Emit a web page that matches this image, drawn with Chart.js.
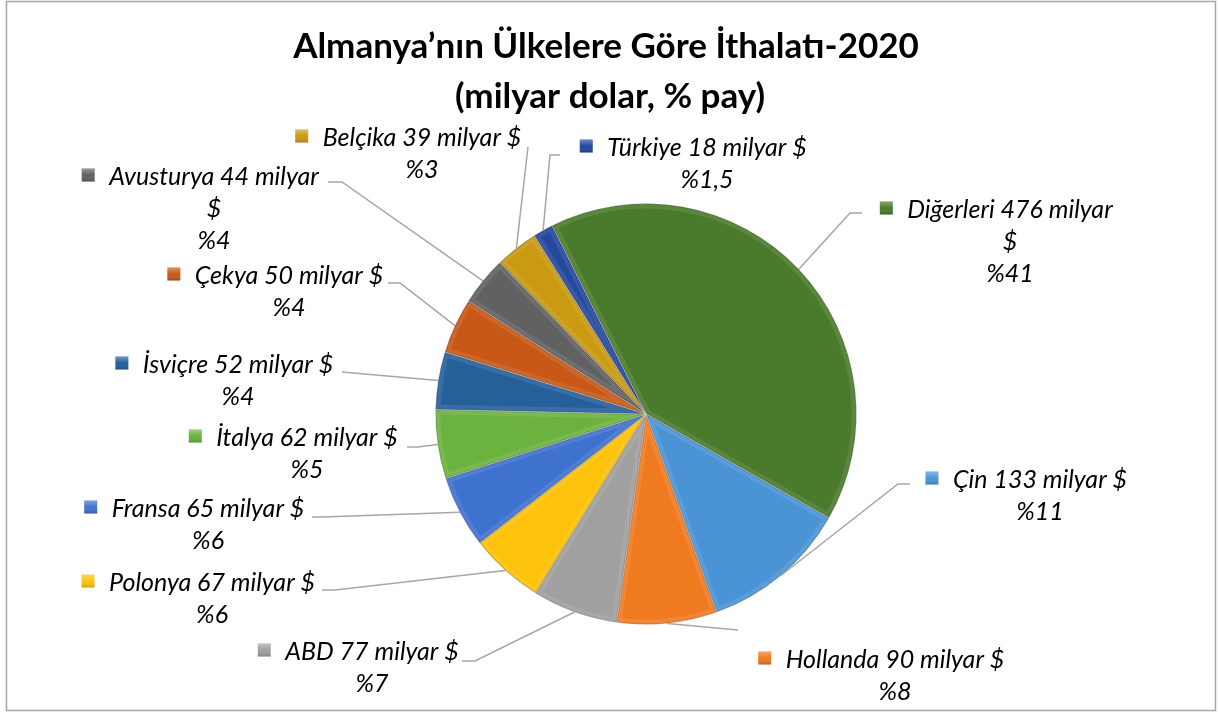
<!DOCTYPE html>
<html>
<head>
<meta charset="utf-8">
<script src="https://cdn.jsdelivr.net/npm/chart.js@4.4.0/dist/chart.umd.min.js"></script>
<style>
  body { margin: 0; background: #fff; }
  canvas { display: block; }
</style>
</head>
<body>
<canvas id="pie" width="1219" height="713"></canvas>
<script>
// data
const countries = ['Diğerleri', 'Çin', 'Hollanda', 'ABD', 'Polonya', 'Fransa', 'İtalya', 'İsviçre', 'Çekya', 'Avusturya', 'Belçika', 'Türkiye'];
const importBn = [476, 133, 90, 77, 67, 65, 62, 52, 50, 44, 39, 18];
const sharePct = [41, 11, 8, 7, 6, 6, 5, 4, 4, 4, 3, 1.5];
const titleLines = ['Almanya’nın Ülkelere Göre İthalatı-2020', '(milyar dolar, % pay)'];

const sliceColors = ['#4a7a2b', '#4a94d6', '#f07a20', '#a0a0a0', '#fdc20c', '#3f72cf', '#6cb23f', '#25609a', '#c75818', '#616161', '#c99a12', '#24489e'];

// where Excel put each data label (text centre x, first line y, leader line start + elbow)
const labelPos = [
  { cx: 1010, y: 210, wrap: true, from: [862, 213], elbow: [850, 213] },
  { cx: 1040, y: 480, from: [910, 484], elbow: [898, 484] },
  { cx: 895, y: 660, from: [738, 630], elbow: [738, 630] },
  { cx: 372, y: 652, from: [462, 661], elbow: [475, 661] },
  { cx: 212, y: 583, from: [322, 590], elbow: [335, 590] },
  { cx: 208, y: 509, from: [312, 517], elbow: [323, 517] },
  { cx: 307, y: 438, from: [407, 447], elbow: [418, 447] },
  { cx: 238, y: 365, from: [342, 372], elbow: [342, 372] },
  { cx: 289, y: 276, from: [388, 283], elbow: [400, 283] },
  { cx: 214, y: 177, wrap: true, from: [328, 182], elbow: [342, 182] },
  { cx: 422, y: 138, from: [528, 147], elbow: [528, 147] },
  { cx: 707, y: 148, from: [560, 155], elbow: [550, 155] },
];

const labelFont = 'italic 25px Lato';
const lineGap = 32;

const fmtPct = (v) => '%' + String(v).replace('.', ',');

const frameAndTitle = {
  id: 'frameAndTitle',
  beforeDraw(chart) {
    const ctx = chart.ctx;
    ctx.save();
    ctx.fillStyle = '#fff';
    ctx.fillRect(0, 0, chart.width, chart.height);
    ctx.strokeStyle = '#a6a6a6';
    ctx.lineWidth = 1.5;
    ctx.strokeRect(6.5, 1.5, 1209, 709);
    ctx.fillStyle = '#000';
    ctx.font = 'bold 35px Lato';
    ctx.textAlign = 'center';
    ctx.textBaseline = 'middle';
    ctx.fillText(titleLines[0], 606, 47);
    ctx.fillText(titleLines[1], 610, 97);
    ctx.restore();
  }
};

const bevelAndLabels = {
  id: 'bevelAndLabels',
  afterDatasetsDraw(chart) {
    const ctx = chart.ctx;
    const meta = chart.getDatasetMeta(0);

    // rough bevel look on each slice
    meta.data.forEach((arc) => {
      ctx.save();
      ctx.beginPath();
      ctx.moveTo(arc.x, arc.y);
      ctx.arc(arc.x, arc.y, arc.outerRadius, arc.startAngle, arc.endAngle);
      ctx.closePath();
      ctx.clip();
      ctx.lineJoin = 'round';
      ctx.strokeStyle = 'rgba(255,255,255,0.09)';
      ctx.lineWidth = 10;
      ctx.stroke();
      ctx.strokeStyle = 'rgba(0,0,0,0.2)';
      ctx.lineWidth = 2;
      ctx.stroke();
      ctx.restore();
    });

    meta.data.forEach((arc, i) => {
      const pos = labelPos[i];
      const mid = (arc.startAngle + arc.endAngle) / 2;
      const ex = arc.x + Math.cos(mid) * arc.outerRadius;
      const ey = arc.y + Math.sin(mid) * arc.outerRadius;

      // leader line
      ctx.save();
      ctx.strokeStyle = '#a6a6a6';
      ctx.lineWidth = 1.5;
      ctx.beginPath();
      ctx.moveTo(pos.from[0], pos.from[1]);
      ctx.lineTo(pos.elbow[0], pos.elbow[1]);
      ctx.lineTo(ex, ey);
      ctx.stroke();
      ctx.restore();

      // label text
      const lines = pos.wrap
        ? [countries[i] + ' ' + importBn[i] + ' milyar', '$', fmtPct(sharePct[i])]
        : [countries[i] + ' ' + importBn[i] + ' milyar $', fmtPct(sharePct[i])];
      ctx.save();
      ctx.font = labelFont;
      ctx.fillStyle = '#000';
      ctx.textAlign = 'center';
      ctx.textBaseline = 'middle';
      lines.forEach((t, k) => ctx.fillText(t, pos.cx, pos.y + k * lineGap));

      // legend key square in front of the first line
      const w = ctx.measureText(lines[0]).width;
      const mx = pos.cx - w / 2 - 21;
      const my = pos.y - 2;
      const s = 13;
      const g = ctx.createLinearGradient(0, my - s / 2, 0, my + s / 2);
      g.addColorStop(0, 'rgba(255,255,255,0.35)');
      g.addColorStop(0.5, 'rgba(255,255,255,0)');
      g.addColorStop(1, 'rgba(0,0,0,0.2)');
      ctx.fillStyle = sliceColors[i];
      ctx.fillRect(mx - s / 2, my - s / 2, s, s);
      ctx.fillStyle = g;
      ctx.fillRect(mx - s / 2, my - s / 2, s, s);
      ctx.restore();
    });
  }
};

new Chart(document.getElementById('pie'), {
  type: 'pie',
  data: {
    labels: countries,
    datasets: [{
      data: importBn,
      backgroundColor: sliceColors,
      borderColor: 'rgba(255,255,255,0.5)',
      borderWidth: 1,
    }],
  },
  options: {
    responsive: false,
    animation: false,
    rotation: -26.5,
    layout: {
      padding: { top: 203, bottom: 88, left: 435, right: 362 },
    },
    plugins: {
      legend: { display: false },
      tooltip: { enabled: false },
      title: { display: false },
    },
  },
  plugins: [frameAndTitle, bevelAndLabels],
});
</script>
</body>
</html>
